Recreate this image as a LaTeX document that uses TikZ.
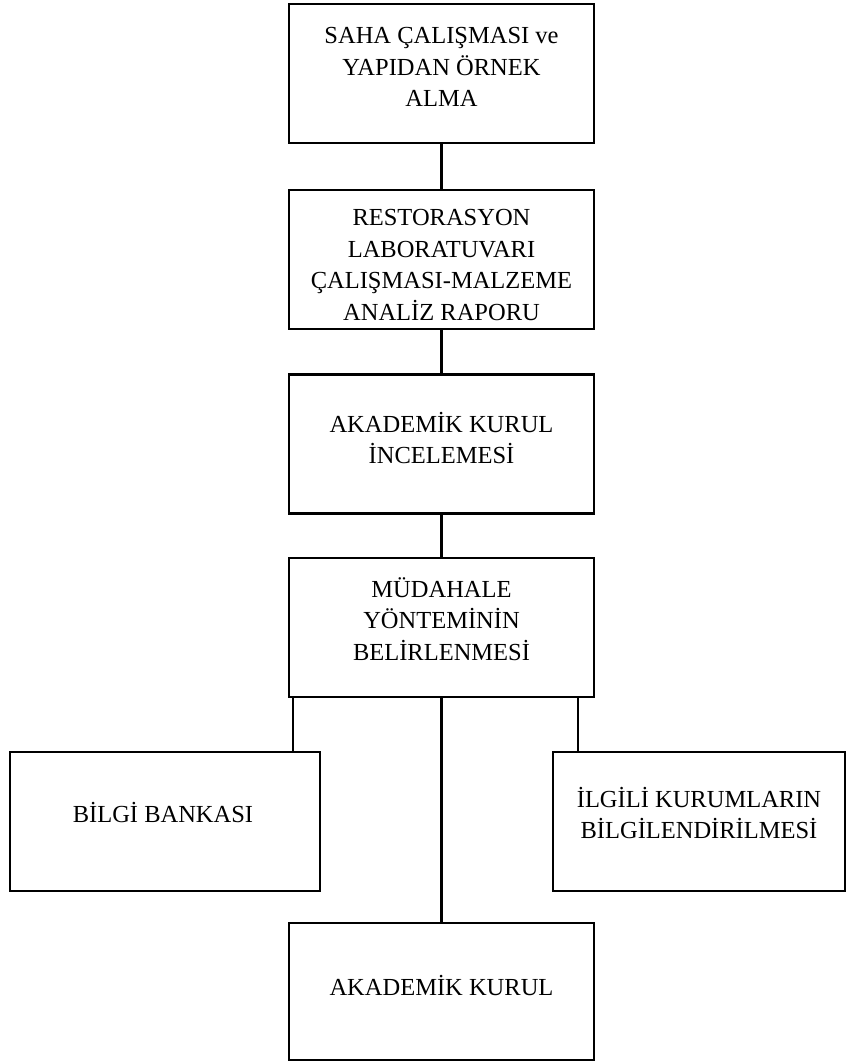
\documentclass[tikz,border=0pt]{standalone}
\usepackage{fontspec}
\setmainfont{Liberation Serif}
\usetikzlibrary{calc}

\begin{document}
\begin{tikzpicture}[x=1pt,y=-1pt,
    kutu/.style={draw, line width=2.6pt, minimum width=305pt, minimum height=139pt, inner sep=0pt},
    yazi/.style={align=center, font=\fontsize{24.5}{31.5}\selectfont, inner sep=0pt},
    hat/.style={line width=2.2pt}]
        \useasboundingbox (0,0) rectangle (853,1063);

        % kutular
        \node[kutu] (saha) at (441.5,73.5) {};
        \node[kutu] (lab) at (441.5,259.5) {};
        \node[kutu] (kurulinc) at (441.5,444) {};
        \node[kutu] (mud) at (441.5,627.5) {};
        \node[kutu, minimum width=310pt] (bilgi) at (165,821.5) {};
        \node[kutu, minimum width=292pt] (ilgili) at (699,821.5) {};
        \node[kutu, minimum height=137pt] (kurul) at (441.5,991.5) {};

        % yazilar
        \node[yazi] (sahat) at (441.5,67) {SAHA ÇALIŞMASI ve\\YAPIDAN ÖRNEK\\ALMA};
        \node[yazi] (labt) at (441.5,265) {RESTORASYON\\LABORATUVARI\\ÇALIŞMASI-MALZEME\\ANALİZ RAPORU};
        \node[yazi] (kurulinct) at (441.5,438) {AKADEMİK KURUL\\İNCELEMESİ};
        \node[yazi] (mudt) at (441.5,619) {MÜDAHALE\\YÖNTEMİNİN\\BELİRLENMESİ};
        \node[yazi] (bilgit) at (163,813) {BİLGİ BANKASI};
        \node[yazi] (ilgilit) at (699,813) {İLGİLİ KURUMLARIN\\BİLGİLENDİRİLMESİ};
        \node[yazi] (kurult) at (441.5,985) {AKADEMİK KURUL};

        % baglantilar
        \draw[hat] (saha.south) -- (lab.north);
        \draw[hat] (lab.south) -- (kurulinc.north);
        \draw[hat] (kurulinc.south) -- (mud.north);
        \draw[hat] (mud.south) -- (kurul.north);

        \coordinate (sol) at ([xshift=5pt]mud.south west);
        \coordinate (sag) at ([xshift=-17pt]mud.south east);
        \draw[hat] (sol) -- (sol |- bilgi.north);
        \draw[hat] (sag) -- (sag |- ilgili.north);
\end{tikzpicture}
\end{document}
